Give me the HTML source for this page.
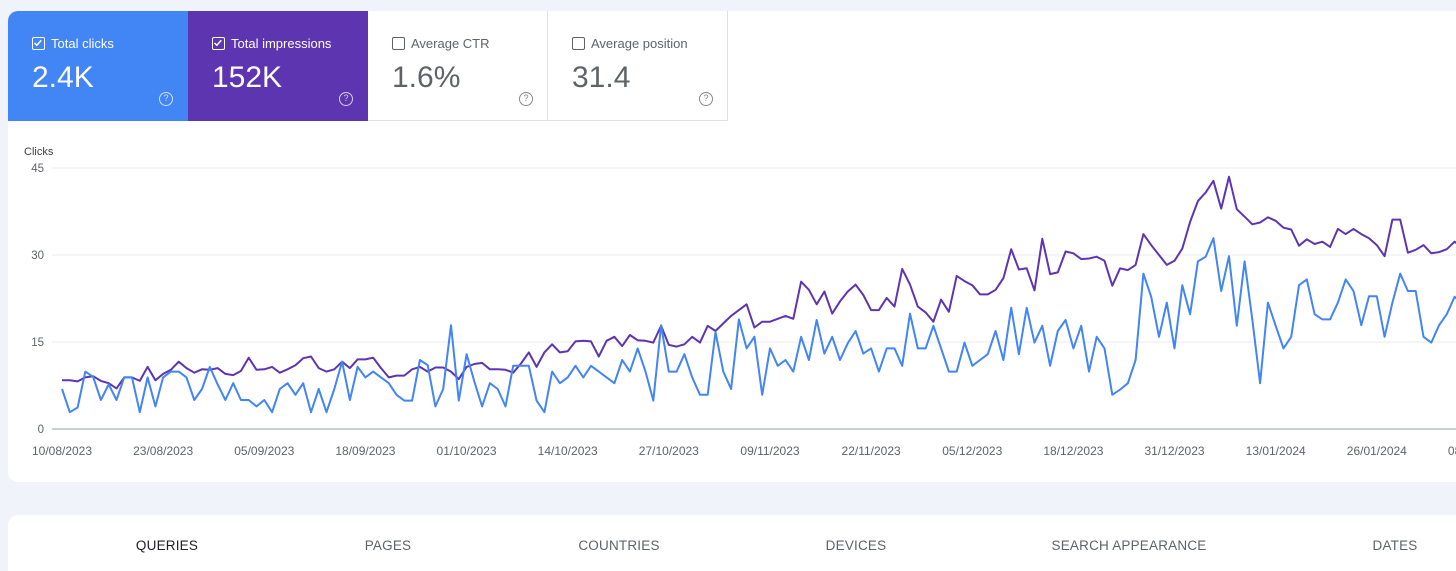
<!DOCTYPE html>
<html><head><meta charset="utf-8">
<style>
html,body{margin:0;width:1456px;height:571px;overflow:hidden}
body{background:#f1f3fa;font-family:"Liberation Sans",Arial,sans-serif;position:relative}
.card{position:absolute;background:#fff}
.metric{position:absolute;top:11px;width:180px;height:110px;box-sizing:border-box}
.metric .lab{position:absolute;left:24px;top:25px;font-size:13px;display:flex;align-items:center}
.cb{width:13px;height:13px;border:1.5px solid currentColor;border-radius:2px;margin-right:6px;position:relative;box-sizing:border-box}
.metric .val{position:absolute;left:24px;top:50px;font-size:30px}
.help{position:absolute;left:151px;top:81px;width:14px;height:14px;box-sizing:border-box;border:1.5px solid currentColor;border-radius:50%;font-size:9px;line-height:11px;text-align:center;opacity:.75}
.tab{position:absolute;top:538px;font-size:13.5px;color:#5f6368;transform:translateX(-50%);letter-spacing:.2px}
</style></head><body>
<div class="card" style="left:8px;top:11px;width:1460px;height:471px;border-radius:10px"></div>
<div class="metric" style="left:8px;background:#4285f4;color:#fff;border-top-left-radius:10px">
 <div class="lab"><span class="cb"><svg width="10" height="10" style="position:absolute;top:0;left:0" viewBox="0 0 10 10"><path d="M1.5 5l2.3 2.3 4.5-5" stroke="#fff" stroke-width="1.5" fill="none"/></svg></span>Total clicks</div>
 <div class="val">2.4K</div>
 <div class="help">?</div>
</div>
<div class="metric" style="left:188px;background:#5e35b1;color:#fff">
 <div class="lab"><span class="cb"><svg width="10" height="10" style="position:absolute;top:0;left:0" viewBox="0 0 10 10"><path d="M1.5 5l2.3 2.3 4.5-5" stroke="#fff" stroke-width="1.5" fill="none"/></svg></span>Total impressions</div>
 <div class="val">152K</div>
 <div class="help">?</div>
</div>
<div class="metric" style="left:368px;color:#5f6368;border-right:1px solid #e0e0e0;border-bottom:1px solid #e0e0e0">
 <div class="lab"><span class="cb" style="border-color:#5f6368"></span>Average CTR</div>
 <div class="val">1.6%</div>
 <div class="help">?</div>
</div>
<div class="metric" style="left:548px;color:#5f6368;border-right:1px solid #e0e0e0;border-bottom:1px solid #e0e0e0">
 <div class="lab"><span class="cb" style="border-color:#5f6368"></span>Average position</div>
 <div class="val">31.4</div>
 <div class="help">?</div>
</div>
<svg id="chart" width="1456" height="571" style="position:absolute;left:0;top:0"></svg>
<div class="card" style="left:8px;top:515px;width:1460px;height:70px;border-radius:10px"></div>
<div class="tab" style="left:167px;color:#202124">QUERIES</div>
<div class="tab" style="left:388px">PAGES</div>
<div class="tab" style="left:619px">COUNTRIES</div>
<div class="tab" style="left:856px">DEVICES</div>
<div class="tab" style="left:1129px">SEARCH APPEARANCE</div>
<div class="tab" style="left:1395px">DATES</div>
<script>
const clicks=[6.9,2.9,3.7,9.9,9.0,5,7.7,5,8.9,8.9,2.9,8.9,3.9,8.9,9.9,9.9,8.9,5,6.9,10.7,7.7,5,7.9,5,5,3.9,5,2.9,6.9,7.9,5.9,7.9,2.9,6.9,2.9,6.9,11.6,5,10.7,8.9,9.9,8.9,7.9,
5.9,4.9,4.9,11.9,11,3.9,6.9,17.9,4.9,12.9,8.2,3.9,7.9,6.9,3.9,10.9,10.9,10.9,4.9,2.9,9.9,7.9,8.9,10.9,8.9,10.9,9.9,8.9,7.9,11.9,9.9,13.9,9.9,4.9,17.9,9.9,9.9,12.9,8.9,5.9,5.9,16.7,9.9,6.9,18.9,
13.9,15.9,5.9,13.9,10.9,11.9,9.9,15.9,11.9,18.8,13,15.9,11.9,14.8,16.9,13,13.9,9.9,13.9,13.9,10.9,19.9,13.9,13.9,17.8,13.9,9.9,9.9,14.9,10.9,11.9,12.9,16.9,11.9,20.9,12.9,20.9,14.9,17.8,10.9,16.9,18.8,13.9,17.8,9.9,
15.9,13.9,5.9,6.8,7.9,11.9,26.8,22.8,15.9,21.8,13.9,24.8,19.8,28.9,29.7,32.9,23.8,29.8,17.8,28.9,18.9,7.9,21.8,17.8,13.9,15.9,24.8,25.8,19.8,18.9,18.9,21.8,25.8,23.8,17.9,22.9,22.9,15.9,21.8,26.8,23.8,23.8,15.9,14.9,17.9,19.8,22.8,21.6];
const impressions=[8.4,8.4,8.2,8.9,9.1,8.3,7.9,7.0,8.9,8.9,8.3,10.7,8.4,9.5,10.2,11.6,10.5,9.7,10.3,10.2,10.5,9.5,9.3,10,12.3,10.2,10.3,10.7,9.7,10.3,11,12.2,12.5,10.5,9.9,10.3,11.6,10.5,12,12,12.3,10.5,8.9,
9.2,9.2,10.3,10.7,9.9,10.6,10.6,9.9,8.6,10.7,11.2,11.4,10.3,10.3,10.2,9.7,11.3,13.2,10.7,13.2,14.6,13.2,13.4,15.1,15.2,15.1,12.5,15.2,15.9,14.3,16.2,15.3,15.2,14.9,17.8,14.5,14.2,14.6,15.9,14.9,17.8,16.9,18.2,19.5,20.5,
21.5,17.5,18.5,18.5,19,19.5,19,25.4,24,21.5,23.7,19.9,22,23.7,24.9,23.1,20.5,20.5,22.6,21.1,27.6,24.9,21.1,20.1,18.5,22.3,20.2,26.4,25.5,24.8,23.2,23.2,24,26,31,27.5,27.7,23.9,32.8,26.7,27,30.6,30.3,29.3,29.4,
29.7,29,24.7,27.7,27.4,28.3,33.6,31.7,30,28.3,29,31.1,35.7,39.3,40.8,42.8,38,43.5,37.9,36.6,35.3,35.6,36.5,35.9,34.7,34.4,31.6,32.7,31.9,32.3,31.4,34.5,33.6,34.5,33.6,32.9,31.7,29.8,36.1,36.1,30.4,30.9,31.7,30.3,30.5,31,32.3,31.3];
const yTicks=[0,15,30,45];
const xLabels=["10/08/2023","23/08/2023","05/09/2023","18/09/2023","01/10/2023","14/10/2023","27/10/2023","09/11/2023","22/11/2023","05/12/2023","18/12/2023","31/12/2023","13/01/2024","26/01/2024","08/02/2024"];
const labelStepDays=13;
const svg=document.getElementById('chart');
const NS='http://www.w3.org/2000/svg';
const x0=62,dx=7.78,yBase=429,yTop=168,yMax=45;
const xs=i=>x0+i*dx;
const ys=v=>yBase-(v/yMax)*(yBase-yTop);
function mk(t,a){const e=document.createElementNS(NS,t);for(const k in a)e.setAttribute(k,a[k]);svg.appendChild(e);return e;}
const ct=mk('text',{x:24,y:155,'font-size':11,fill:'#3c4043','font-family':'Liberation Sans, sans-serif'});ct.textContent='Clicks';


yTicks.forEach(t=>{
 const l=mk('line',{x1:52,x2:1456,y1:ys(t),y2:ys(t),stroke:t===0?'#9aa0a6':'#ebebeb','stroke-width':1});
 
 
 const tx=mk('text',{x:44,y:ys(t)+4,'font-size':11.5,fill:'#5f6368','text-anchor':'end','font-family':'Liberation Sans, sans-serif'});tx.textContent=t;
 
 
});
xLabels.forEach((s,k)=>{
 const tx=mk('text',{x:xs(k*labelStepDays),y:455,'font-size':12,fill:'#5f6368','text-anchor':'middle','font-family':'Liberation Sans, sans-serif'});tx.textContent=s;
 
 
});
function line(d,c,n){
 const p=mk('polyline',{points:d.map((v,i)=>xs(i).toFixed(1)+','+ys(v).toFixed(1)).join(' '),fill:'none',stroke:c,'stroke-width':2,'stroke-linejoin':'round'});
 
 
}
line(impressions,'#5e35b1','impressions-line');
line(clicks,'#4285f4','clicks-line');
</script>
</body></html>
